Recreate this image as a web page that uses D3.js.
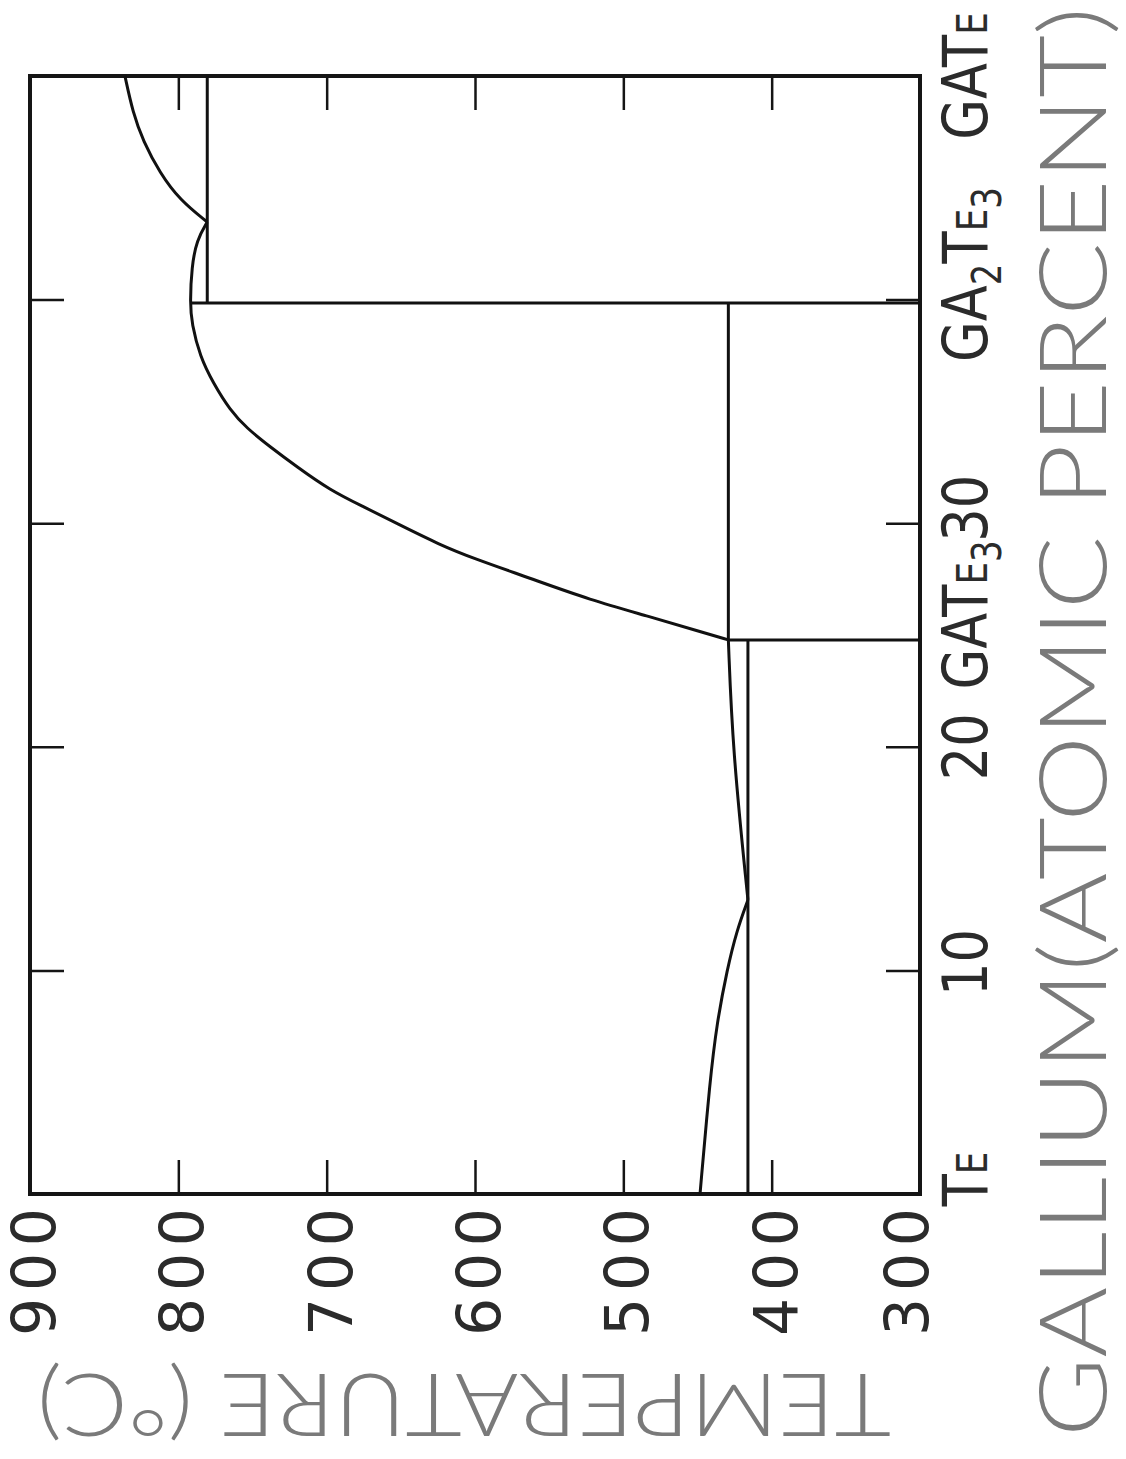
<!DOCTYPE html>
<html>
<head>
<meta charset="utf-8">
<script src="https://cdn.jsdelivr.net/npm/d3@7"></script>
<style>
  body { margin: 0; background: #fff; }
  text { font-family: "DejaVu Sans", sans-serif; }
  .title { font-family: "Lato", "DejaVu Sans", sans-serif; font-weight: 300; }
</style>
</head>
<body>
<div id="chart"></div>
<script>
// Ga-Te phase diagram, drawn rotated: temperature runs left->right (900 -> 300),
// gallium atomic percent runs bottom->top (Te -> GaTe)

// [atomic % Ga, temperature C]
var teLiquidus = [[0, 448.3], [5.1, 441.6], [7.65, 436.9], [10.02, 430.1], [11.81, 423.4], [13.15, 416]];
var eutecticToPeritectic = [[13.15, 416], [19.86, 426.3], [24.78, 429.2]];
var ga2te3Liquidus = [[24.78, 429.2], [25.15, 448.3], [25.82, 482], [26.57, 522.5], [27.54, 562.9],
  [28.43, 601.2], [29.03, 623.6], [29.99, 652.8], [30.74, 675.3], [31.48, 697.8], [32.53, 720.2],
  [33.42, 738.2], [34.25, 753.9], [35.06, 765.2], [36.26, 776.4], [37.45, 785.4], [38.94, 791],
  [39.85, 792.1], [41.47, 791], [42.67, 787.6], [43.47, 780.5]];
var gaTeLiquidus = [[43.47, 780.5], [44.45, 798.9], [45.66, 812.4], [47.1, 823.8], [48.35, 830.6], [50, 836]];

var eutecticIsotherm = [[0, 416], [24.78, 416]];
var gaTe3Line = [[24.78, 429.2], [24.78, 300]];
var peritecticIsotherm = [[24.78, 429.2], [39.85, 429.2]];
var ga2Te3Line = [[39.85, 792.1], [39.85, 300]];
var upperIsotherm = [[39.85, 780.5], [50, 780.5]];

var tempTicks = [800, 700, 600, 500, 400];
var tempLabels = [900, 800, 700, 600, 500, 400, 300];
var compTicks = [10, 20, 30, 40];
var compLabels = [
  {c: 0, parts: [["T", "cap"], ["E", "small"]]},
  {c: 10, parts: [["10", "cap"]]},
  {c: 20, parts: [["20", "cap"]]},
  {c: 25, parts: [["GAT", "cap"], ["E", "small"], ["3", "sub"]]},
  {c: 30, parts: [["30", "cap"]]},
  {c: 40, parts: [["GA", "cap"], ["2", "sub"], ["T", "cap"], ["E", "small"], ["3", "sub"]]},
  {c: 50, parts: [["GAT", "cap"], ["E", "small"]]}
];

var width = 1126, height = 1459;

var svg = d3.select("#chart").append("svg")
  .attr("width", width)
  .attr("height", height);

svg.append("rect").attr("width", width).attr("height", height).attr("fill", "#fff");

var x = d3.scaleLinear().domain([900, 300]).range([30, 920]);
var y = d3.scaleLinear().domain([0, 50]).range([1194, 76]);

var line = d3.line()
  .x(function(d) { return x(d[1]); })
  .y(function(d) { return y(d[0]); })
  .curve(d3.curveBasis);

var straight = d3.line()
  .x(function(d) { return x(d[1]); })
  .y(function(d) { return y(d[0]); });

// ticks, all pointing inward
var tickLen = 34;
function styleAxis(g) {
  g.select(".domain").remove();
  g.selectAll(".tick line").attr("stroke", "#151515").attr("stroke-width", 2.5);
}
svg.append("g").attr("transform", "translate(0," + y(0) + ")")
  .call(d3.axisBottom(x).tickValues(tempTicks).tickSize(-tickLen).tickFormat(""))
  .call(styleAxis);
svg.append("g").attr("transform", "translate(0," + y(50) + ")")
  .call(d3.axisTop(x).tickValues(tempTicks).tickSize(-tickLen).tickFormat(""))
  .call(styleAxis);
svg.append("g").attr("transform", "translate(" + x(900) + ",0)")
  .call(d3.axisLeft(y).tickValues(compTicks).tickSize(-tickLen).tickFormat(""))
  .call(styleAxis);
svg.append("g").attr("transform", "translate(" + x(300) + ",0)")
  .call(d3.axisRight(y).tickValues(compTicks).tickSize(-tickLen).tickFormat(""))
  .call(styleAxis);

// frame
svg.append("rect")
  .attr("x", x(900)).attr("y", y(50))
  .attr("width", x(300) - x(900)).attr("height", y(0) - y(50))
  .attr("fill", "none").attr("stroke", "#151515").attr("stroke-width", 4);

// phase boundaries
var curves = [teLiquidus, eutecticToPeritectic, ga2te3Liquidus, gaTeLiquidus];
curves.forEach(function(c) {
  svg.append("path").attr("d", line(c))
    .attr("fill", "none").attr("stroke", "#111").attr("stroke-width", 3);
});
var lines = [eutecticIsotherm, gaTe3Line, peritecticIsotherm, ga2Te3Line, upperIsotherm];
lines.forEach(function(l) {
  svg.append("path").attr("d", straight(l))
    .attr("fill", "none").attr("stroke", "#111").attr("stroke-width", 3);
});

// temperature labels (rotated, reading upward)
svg.selectAll(".tlabel")
  .data(tempLabels)
  .enter()
  .append("text")
  .attr("class", "tlabel")
  .attr("transform", function(d) {
    var nudge = d === 300 ? -17 : 0;
    return "translate(" + (x(d) + nudge + 25) + ",1272) rotate(-90)";
  })
  .attr("text-anchor", "middle")
  .attr("font-size", 60)
  .attr("fill", "#2b2b2b")
  .attr("textLength", 128)
  .attr("lengthAdjust", "spacing")
  .text(function(d) { return d; });

// composition labels on the right
var compNudge = {0: -15, 10: -8, 20: 0, 25: -20, 30: -15, 40: -25, 50: 0};
var sizes = {cap: 62, small: 42, sub: 40};
compLabels.forEach(function(l) {
  var t = svg.append("text")
    .attr("transform", "translate(987," + (y(l.c) + compNudge[l.c]) + ") rotate(-90) scale(0.85,1)")
    .attr("text-anchor", "middle")
    .attr("fill", "#2b2b2b");
  var shifted = false;
  l.parts.forEach(function(p) {
    var ts = t.append("tspan").attr("font-size", sizes[p[1]]).text(p[0]);
    if (p[1] === "sub" && !shifted) { ts.attr("dy", 14); shifted = true; }
    else if (p[1] !== "sub" && shifted) { ts.attr("dy", -14); shifted = false; }
  });
});

// axis titles
svg.append("text")
  .attr("class", "title")
  .attr("transform", "translate(464,1374) rotate(180)")
  .attr("text-anchor", "middle")
  .attr("font-size", 86)
  .attr("fill", "#7a7a7a")
  .attr("textLength", 854)
  .attr("lengthAdjust", "spacingAndGlyphs")
  .text("TEMPERATURE (°C)");

svg.append("text")
  .attr("class", "title")
  .attr("transform", "translate(1106,722) rotate(-90)")
  .attr("text-anchor", "middle")
  .attr("font-size", 92)
  .attr("fill", "#7a7a7a")
  .attr("textLength", 1430)
  .attr("lengthAdjust", "spacingAndGlyphs")
  .text("GALLIUM(ATOMIC PERCENT)");
</script>
</body>
</html>
